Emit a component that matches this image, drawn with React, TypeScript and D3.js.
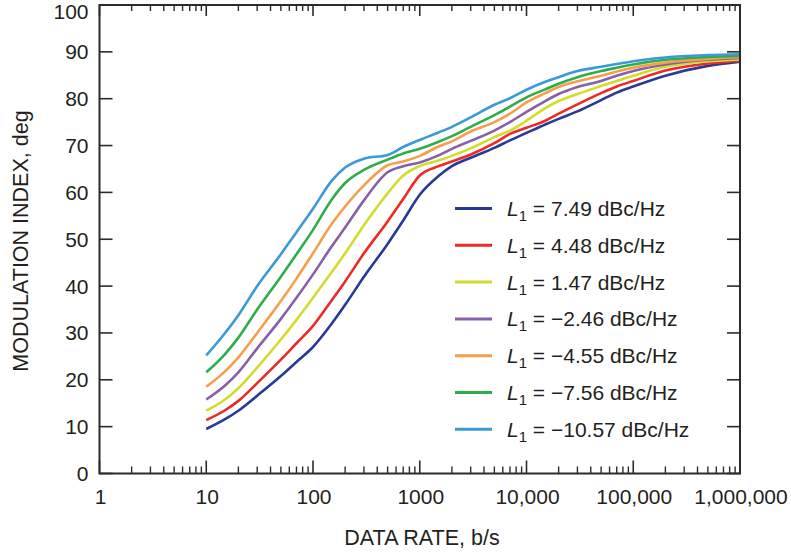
import React from "react";
import * as d3 from "d3";

const rates = [10, 15, 20, 30, 50, 70, 100, 150, 200, 300, 500, 700, 1000, 1500, 2000, 3000, 5000, 7000, 10000, 15000, 20000, 30000, 50000, 70000, 100000, 200000, 500000, 1000000];

const sNavy = [9.5, 11.6, 13.4, 16.6, 20.8, 23.8, 27, 32, 36, 42, 49, 54, 59.5, 63.5, 65.6, 67.4, 69.5, 71.1, 72.7, 74.5, 75.7, 77.3, 79.7, 81.3, 82.6, 84.9, 87, 87.9];
const sRed = [11.4, 13.5, 15.5, 19.3, 24.3, 27.8, 31.5, 37, 41, 47, 53.8, 58.6, 63.6, 65.6, 66.6, 68.1, 70.5, 72.5, 73.8, 75.3, 76.8, 78.8, 81.2, 82.6, 83.8, 86, 87.5, 88.1];
const sYellow = [13.4, 15.8, 18.2, 22.6, 28.6, 32.8, 37.5, 43, 47, 53, 59.8, 63.6, 65.6, 66.8, 67.8, 69.4, 71.8, 73.2, 75.3, 78, 79.5, 81, 82.7, 83.8, 84.9, 86.8, 88, 88.4];
const sPurple = [15.8, 18.8, 21.6, 26.7, 33, 37.5, 42.5, 48.5, 52.5, 58.3, 64.3, 65.6, 66.4, 67.9, 69.3, 71, 73.2, 75, 77.2, 79.5, 81, 82.5, 83.8, 84.9, 85.9, 87.3, 88.3, 88.7];
const sOrange = [18.5, 21.8, 24.8, 30, 36.8, 41.6, 47, 53.3, 57, 61.5, 65.8, 66.6, 67.8, 69.8, 70.9, 73, 75, 76.8, 79.2, 81.2, 82.5, 83.7, 84.9, 85.8, 86.6, 87.7, 88.5, 88.9];
const sGreen = [21.6, 25.5, 29, 35, 42, 46.8, 52, 58.5, 62, 64.8, 67, 68.3, 69.3, 70.8, 72, 74, 76.5, 78.3, 80.3, 82, 83.2, 84.6, 85.9, 86.6, 87.3, 88.3, 88.9, 89.2];
const sBlue = [25.2, 30, 33.8, 40, 46.8, 51.5, 56.5, 62.5, 65.3, 67.2, 68, 69.7, 71.2, 72.8, 74, 76, 78.7, 80.1, 81.9, 83.6, 84.6, 85.9, 86.8, 87.4, 88, 88.8, 89.3, 89.5];

const seriesValues = [sNavy, sRed, sYellow, sPurple, sOrange, sGreen, sBlue];
const seriesLabels = ["7.49", "4.48", "1.47", "\u22122.46", "\u22124.55", "\u22127.56", "\u221210.57"];
const seriesColors = ["#283a95", "#ec2a26", "#d3dc2b", "#8660a9", "#f59f4b", "#2eae4b", "#3a9ad7"];

const xTickValues = [1, 10, 100, 1000, 10000, 100000, 1000000];
const xTickLabels = ["1", "10", "100", "1000", "10,000", "100,000", "1,000,000"];
const yTickValues = [0, 10, 20, 30, 40, 50, 60, 70, 80, 90, 100];

const W = 791;
const H = 552;
const left = 99.5;
const right = 740;
const top = 5;
const bottom = 473.5;
const axisColor = "#2b2b2b";
const font = "'Liberation Sans', Arial, Helvetica, sans-serif";

export default function App() {
  const x = d3.scaleLog().domain([1, 1000000]).range([left, right]);
  const y = d3.scaleLinear().domain([0, 100]).range([bottom, top]);

  const minor: number[] = [];
  for (let d = 0; d < 6; d++) {
    for (let k = 2; k <= 9; k++) minor.push(k * Math.pow(10, d));
  }

  const line = d3
    .line<[number, number]>()
    .x((d) => x(d[0]))
    .y((d) => y(d[1]))
    .curve(d3.curveMonotoneX);

  const legendX1 = 455;
  const legendX2 = 492;
  const legendY0 = 208.5;
  const legendStep = 36.8;

  return (
    <svg
      width={W}
      height={H}
      style={{ position: "absolute", left: 0, top: 0, background: "#fff" }}
      fontFamily={font}
    >
      <rect x={0} y={0} width={W} height={H} fill="#fff" />
      {seriesValues.map((vals, i) => (
        <path
          key={i}
          d={line(rates.map((r, j) => [r, vals[j]] as [number, number])) || ""}
          fill="none"
          stroke={seriesColors[i]}
          strokeWidth={2.6}
          strokeLinejoin="round"
        />
      ))}
      <rect x={left} y={top} width={right - left} height={bottom - top} fill="none" stroke={axisColor} strokeWidth={2} />
      {xTickValues.map((v, i) => (
        <g key={"xt" + i}>
          <line x1={x(v)} x2={x(v)} y1={bottom} y2={bottom - 13} stroke={axisColor} strokeWidth={1.6} />
          <line x1={x(v)} x2={x(v)} y1={top} y2={top + 11} stroke={axisColor} strokeWidth={1.6} />
          <text x={x(v) + 1} y={503.5} fontSize={21} textAnchor="middle" fill="#231f20">
            {xTickLabels[i]}
          </text>
        </g>
      ))}
      {minor.map((v, i) => (
        <g key={"xm" + i}>
          <line x1={x(v)} x2={x(v)} y1={bottom} y2={bottom - 7} stroke={axisColor} strokeWidth={1.4} />
          <line x1={x(v)} x2={x(v)} y1={top} y2={top + 6} stroke={axisColor} strokeWidth={1.4} />
        </g>
      ))}
      {yTickValues.map((v, i) => (
        <g key={"yt" + i}>
          <line x1={left} x2={left + 13} y1={y(v)} y2={y(v)} stroke={axisColor} strokeWidth={1.6} />
          <line x1={right} x2={right - 13} y1={y(v)} y2={y(v)} stroke={axisColor} strokeWidth={1.6} />
          <text x={88.5} y={Math.max(y(v) + 7.5, 18.5)} fontSize={21} textAnchor="end" fill="#231f20">
            {v}
          </text>
        </g>
      ))}
      <text x={422} y={545} fontSize={21.5} textAnchor="middle" fill="#231f20">
        DATA RATE, b/s
      </text>
      <text
        transform={`translate(27.5, 241) rotate(-90)`}
        fontSize={21.5}
        textAnchor="middle"
        fill="#231f20"
      >
        MODULATION INDEX, deg
      </text>
      {seriesLabels.map((lab, i) => {
        const ly = legendY0 + i * legendStep;
        return (
          <g key={"lg" + i}>
            <line x1={legendX1} x2={legendX2} y1={ly} y2={ly} stroke={seriesColors[i]} strokeWidth={3} />
            <text x={507} y={ly + 7.5} fontSize={21} fill="#231f20">
              <tspan fontStyle="italic">L</tspan>
              <tspan fontSize={15} dy={5}>1</tspan>
              <tspan dy={-5}>{" = " + lab + " dBc/Hz"}</tspan>
            </text>
          </g>
        );
      })}
    </svg>
  );
}
